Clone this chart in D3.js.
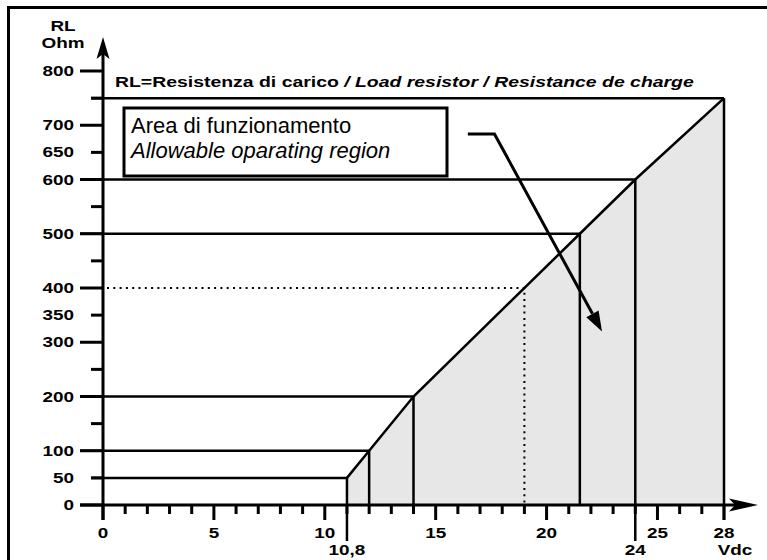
<!DOCTYPE html>
<html>
<head>
<meta charset="utf-8">
<script src="https://cdn.jsdelivr.net/npm/d3@7"></script>
<style>
  body { margin: 0; background: #fff; }
  text { font-family: "Liberation Sans", Arial, sans-serif; fill: #000; }
</style>
</head>
<body>
<div id="chart"></div>
<script>
// load line corners: supply voltage (Vdc) and max load resistance (Ohm)
const cornerVolts = [11, 12, 14, 21.5, 24, 28];
const cornerOhms = [50, 100, 200, 500, 600, 750];
const dottedPoint = [19, 400];

const yTickValues = d3.range(0, 801, 50);
const yTickLabels = [0, 50, 100, 200, 300, 350, 400, 500, 600, 650, 700, 800];
const xTickValues = d3.range(0, 29, 1);
const xMajorTicks = [0, 5, 10, 15, 20, 25, 28];
const xExtraLabels = [
  { v: 11, text: "10,8" },
  { v: 24, text: "24" },
];

// pointer arrow from the label box into the area (Vdc, Ohm)
const pointerPts = [[16.45, 684], [17.65, 684], [22.5, 320]];

const legendParts = [
  { text: "RL=Resistenza di carico ", italic: false },
  { text: "/ Load resistor / Resistance de charge", italic: true },
];
const boxLines = [
  { text: "Area di funzionamento", italic: false },
  { text: "Allowable oparating region", italic: true },
];

const width = 767, height = 560;
const svg = d3.select("#chart").append("svg")
  .attr("width", width).attr("height", height);

const x = d3.scaleLinear().domain([0, 28]).range([103, 724]);
const y = d3.scaleLinear().domain([0, 800]).range([505, 71]);

// frame (left and top only)
svg.append("path")
  .attr("d", `M8.5,${height} L8.5,7.5 L${width},7.5`)
  .attr("fill", "none").attr("stroke", "#000").attr("stroke-width", 3);

// shaded area
const area = [[cornerVolts[0], 0]]
  .concat(cornerVolts.map((v, i) => [v, cornerOhms[i]]))
  .concat([[cornerVolts[cornerVolts.length - 1], 0]]);
svg.append("path")
  .attr("d", d3.line().x(d => x(d[0])).y(d => y(d[1]))(area) + "Z")
  .attr("fill", "#e7e7e7");

const isLong = v => v % 100 === 0;
const tickStart = v => isLong(v) ? 80 : 91;

// horizontal lines from ticks to the corners
svg.append("g").selectAll("line").data(cornerOhms).join("line")
  .attr("x1", d => tickStart(d)).attr("x2", (d, i) => x(cornerVolts[i]))
  .attr("y1", d => y(d)).attr("y2", d => y(d))
  .attr("stroke", "#000").attr("stroke-width", 2.5);

// vertical lines from corners down
svg.append("g").selectAll("line").data(cornerVolts).join("line")
  .attr("x1", d => x(d)).attr("x2", d => x(d))
  .attr("y1", (d, i) => y(cornerOhms[i]))
  .attr("y2", d => (d === 11 || d === 24) ? 541 : (d === 28 ? 520 : y(0)))
  .attr("stroke", "#000").attr("stroke-width", 2.5);

// slope line
svg.append("path")
  .attr("d", d3.line().x((d, i) => x(d)).y((d, i) => y(cornerOhms[i]))(cornerVolts))
  .attr("fill", "none").attr("stroke", "#000").attr("stroke-width", 2.5)
  .attr("stroke-linejoin", "miter");

// dotted lines
svg.append("path")
  .attr("d", `M${x(0) + 4},${y(dottedPoint[1])} L${x(dottedPoint[0])},${y(dottedPoint[1])} L${x(dottedPoint[0])},${y(0)}`)
  .attr("fill", "none").attr("stroke", "#000").attr("stroke-width", 2)
  .attr("stroke-dasharray", "2,4.3");

// y ticks
svg.append("g").selectAll("line").data(yTickValues).join("line")
  .attr("x1", d => tickStart(d)).attr("x2", x(0))
  .attr("y1", d => y(d)).attr("y2", d => y(d))
  .attr("stroke", "#000").attr("stroke-width", 3);

// x ticks
svg.append("g").selectAll("line").data(xTickValues).join("line")
  .attr("x1", d => x(d)).attr("x2", d => x(d))
  .attr("y1", y(0)).attr("y2", d => xMajorTicks.includes(d) ? 520 : 514)
  .attr("stroke", "#000").attr("stroke-width", 3);

// axes with arrowheads
svg.append("line")
  .attr("x1", x(0)).attr("x2", x(0)).attr("y1", 520).attr("y2", 50)
  .attr("stroke", "#000").attr("stroke-width", 3);
svg.append("path")
  .attr("d", `M${x(0)},37 L${x(0) + 6.5},59 L${x(0)},54 L${x(0) - 6.5},59 Z`)
  .attr("fill", "#000");
svg.append("line")
  .attr("x1", 80).attr("x2", 740).attr("y1", y(0)).attr("y2", y(0))
  .attr("stroke", "#000").attr("stroke-width", 3);
svg.append("path")
  .attr("d", `M758,${y(0)} L729,${y(0) - 6.5} L735,${y(0)} L729,${y(0) + 6.5} Z`)
  .attr("fill", "#000");

// text helper: horizontally stretched bold text
function label(tx, ty, str, anchor, k, size) {
  return svg.append("text")
    .attr("transform", `translate(${tx},${ty}) scale(${k},1)`)
    .attr("text-anchor", anchor)
    .attr("font-size", size || 14)
    .attr("font-weight", "bold")
    .text(str);
}

yTickLabels.forEach(v => label(74, y(v) + 5, v, "end", 1.35));
xMajorTicks.forEach(v => label(x(v), 538, v, "middle", 1.35));
xExtraLabels.forEach(d => label(x(d.v), 555, d.text, "middle", 1.35));
label(735, 555, "Vdc", "middle", 1.35);
label(63, 31, "RL", "middle", 1.35);
label(63, 48, "Ohm", "middle", 1.35);

// legend line
const leg = label(115, 87, "", "start", 1.34, 14.5);
leg.selectAll("tspan").data(legendParts).join("tspan")
  .attr("font-style", d => d.italic ? "italic" : "normal")
  .text(d => d.text);

// label box
svg.append("rect")
  .attr("x", 124).attr("y", 108).attr("width", 323).attr("height", 68)
  .attr("fill", "#fff").attr("stroke", "#000").attr("stroke-width", 3);
boxLines.forEach((d, i) => {
  svg.append("text")
    .attr("x", 131).attr("y", 133 + i * 25)
    .attr("font-size", 22)
    .attr("font-style", d.italic ? "italic" : "normal")
    .text(d.text);
});

// pointer arrow
const p = pointerPts.map(d => [x(d[0]), y(d[1])]);
const tip = p[2], prev = p[1];
const ang = Math.atan2(tip[1] - prev[1], tip[0] - prev[0]);
const len = 20, hw = 7;
const base = [tip[0] - len * Math.cos(ang), tip[1] - len * Math.sin(ang)];
svg.append("path")
  .attr("d", d3.line()([p[0], p[1], base]))
  .attr("fill", "none").attr("stroke", "#000").attr("stroke-width", 3);
svg.append("path")
  .attr("d", d3.line()([
    tip,
    [base[0] - hw * Math.sin(ang), base[1] + hw * Math.cos(ang)],
    [base[0] + hw * Math.sin(ang), base[1] - hw * Math.cos(ang)],
  ]) + "Z")
  .attr("fill", "#000");
</script>
</body>
</html>
